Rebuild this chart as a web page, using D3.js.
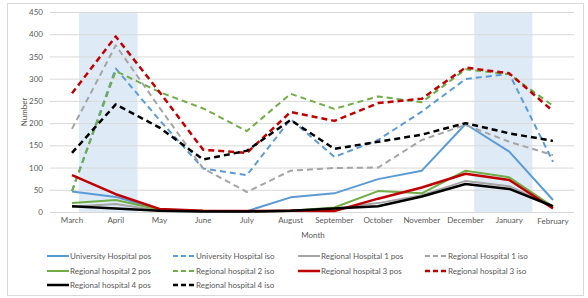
<!DOCTYPE html>
<html>
<head>
<meta charset="utf-8">
<script src="https://cdn.jsdelivr.net/npm/d3@7"></script>
<style>
  body { margin: 0; background: #fff; }
  text { font-family: Lato, "Open Sans", sans-serif; fill: #595959; }
</style>
</head>
<body>
<script>
// months on the x axis
var months = ["March", "April", "May", "June", "July", "August", "September",
              "October", "November", "December", "January", "February"];

// series values, one per month
var univPos  = [46, 34, 5, 2, 2, 33, 42, 74, 93, 198, 136, 27];
var univIso  = [47, 323, 207, 98, 83, 209, 124, 162, 226, 299, 311, 113];
var reg1Pos  = [12, 18, 3, 1, 1, 2, 8, 20, 38, 70, 58, 12];
var reg1Iso  = [187, 375, 235, 98, 45, 93, 99, 100, 162, 196, 158, 128];
var reg2Pos  = [20, 27, 5, 2, 1, 3, 10, 47, 42, 93, 78, 12];
var reg2Iso  = [47, 317, 270, 233, 182, 266, 232, 260, 247, 321, 310, 239];
var reg3Pos  = [83, 40, 7, 3, 2, 3, 2, 30, 55, 86, 72, 8];
var reg3Iso  = [267, 395, 270, 140, 133, 225, 205, 245, 255, 325, 312, 227];
var reg4Pos  = [13, 8, 3, 1, 1, 3, 8, 13, 35, 63, 52, 13];
var reg4Iso  = [133, 242, 190, 118, 138, 207, 142, 158, 174, 200, 177, 160];

var yTicks = [0, 50, 100, 150, 200, 250, 300, 350, 400, 450];

// shaded periods, in month-index units
var shaded = [[0.16, 1.5], [9.2, 10.53]];

var series = [
  {name: "University Hospital pos", values: univPos, color: "#5b9bd5", dash: null, w: 2},
  {name: "University Hospital iso", values: univIso, color: "#5b9bd5", dash: "6,4", w: 2},
  {name: "Regional Hospital 1 pos", values: reg1Pos, color: "#a5a5a5", dash: null, w: 2},
  {name: "Regional Hospital 1 iso", values: reg1Iso, color: "#a5a5a5", dash: "6,4", w: 2},
  {name: "Regional hospital 2 pos", values: reg2Pos, color: "#70ad47", dash: null, w: 2},
  {name: "Regional hospital 2 iso", values: reg2Iso, color: "#70ad47", dash: "6,4", w: 2},
  {name: "Regional hospital 3 pos", values: reg3Pos, color: "#c00000", dash: null, w: 2.5},
  {name: "Regional hospital 3 iso", values: reg3Iso, color: "#c00000", dash: "6,4", w: 2.5},
  {name: "Regional hospital 4 pos", values: reg4Pos, color: "#000000", dash: null, w: 2.5},
  {name: "Regional hospital 4 iso", values: reg4Iso, color: "#000000", dash: "6,4", w: 2.5}
];

var W = 588, H = 298;
var svg = d3.select("body").append("svg")
    .attr("width", W)
    .attr("height", H);

// chart border
svg.append("rect")
    .attr("x", 7.5).attr("y", 3.5)
    .attr("width", 576).attr("height", 292)
    .attr("fill", "#fff")
    .attr("stroke", "#d9d9d9");

var x = d3.scaleLinear().domain([0, months.length - 1]).range([72, 553]);
var y = d3.scaleLinear().domain([0, 450]).range([212, 12]);

// shading
svg.selectAll("rect.shade")
    .data(shaded)
  .enter().append("rect")
    .attr("class", "shade")
    .attr("x", function(d) { return x(d[0]); })
    .attr("width", function(d) { return x(d[1]) - x(d[0]); })
    .attr("y", y(450))
    .attr("height", y(0) - y(450))
    .attr("fill", "#deebf7");

// gridlines + y axis labels
var yAxis = svg.append("g")
    .attr("transform", "translate(50,0)")
    .call(d3.axisLeft(y).tickValues(yTicks).tickSize(-524).tickPadding(7));
yAxis.select(".domain").remove();
yAxis.selectAll("line").attr("stroke", "#d9d9d9");
yAxis.selectAll("text").style("font-size", "8px").attr("fill", "#595959")
    .attr("font-family", "Lato, sans-serif");

// x labels
svg.append("g").selectAll("text")
    .data(months)
  .enter().append("text")
    .attr("x", function(d, i) { return x(i); })
    .attr("y", function(d, i) { return i === 11 ? 224 : 223; })
    .attr("text-anchor", "middle")
    .style("font-size", "8px")
    .text(function(d) { return d; });

svg.append("text")
    .attr("x", 313).attr("y", 238)
    .attr("text-anchor", "middle")
    .style("font-size", "8px")
    .text("Month");

svg.append("text")
    .attr("transform", "translate(27,112) rotate(-90)")
    .attr("text-anchor", "middle")
    .style("font-size", "8px")
    .text("Number");

// lines
var line = d3.line()
    .x(function(d, i) { return x(i); })
    .y(function(d) { return y(d); });

svg.append("g").selectAll("path")
    .data(series)
  .enter().append("path")
    .attr("d", function(d) { return line(d.values); })
    .attr("fill", "none")
    .attr("stroke", function(d) { return d.color; })
    .attr("stroke-width", function(d) { return d.w; })
    .attr("stroke-dasharray", function(d) { return d.dash; })
    .attr("stroke-linejoin", "round");

// legend
var legCols = [47, 173, 298, 425];
var legRows = [256, 271, 285];
var leg = svg.append("g").selectAll("g")
    .data(series)
  .enter().append("g")
    .attr("transform", function(d, i) {
      var r = Math.floor(i / 4), c = i % 4;
      return "translate(" + legCols[c] + "," + legRows[r] + ")";
    });
leg.append("line")
    .attr("x1", 0).attr("x2", 22)
    .attr("stroke", function(d) { return d.color; })
    .attr("stroke-width", function(d) { return d.w; })
    .attr("stroke-dasharray", function(d) { return d.dash ? "5,3" : null; });
leg.append("text")
    .attr("x", 23).attr("y", 3)
    .style("font-size", "8px")
    .text(function(d) { return d.name; });
</script>
</body>
</html>
